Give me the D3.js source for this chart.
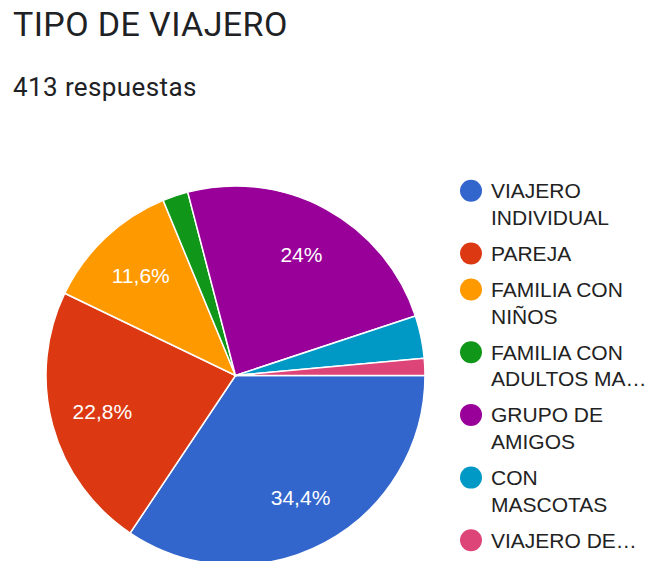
<!DOCTYPE html>
<html>
<head>
<meta charset="utf-8">
<script src="https://cdn.jsdelivr.net/npm/d3@7"></script>
<style>
  body { margin: 0; background: #fff; }
</style>
</head>
<body>
<div id="chart"></div>
<script>
// tipo de viajero - pie chart

const title = "TIPO DE VIAJERO"
const subtitle = "413 respuestas"

const categories = [
    "VIAJERO INDIVIDUAL",
    "PAREJA",
    "FAMILIA CON NIÑOS",
    "FAMILIA CON ADULTOS MA…",
    "GRUPO DE AMIGOS",
    "CON MASCOTAS",
    "VIAJERO DE…"
]
const counts = [142, 94, 48, 9, 99, 15, 6]
const colors = ["#3366cc", "#dc3912", "#ff9900", "#109618", "#990099", "#0099c6", "#dd4477"]

function renderPie(frame_id) {
    let width = 652
    let height = 561
    let cx = 235.5
    let cy = 375.5
    let radius = 189.5

    let svg = d3.select("#" + frame_id)
        .append("svg")
        .attr("width", width)
        .attr("height", height)

    svg.append("text")
        .attr("x", 13)
        .attr("y", 36)
        .text(title)
        .style("font-family", "Roboto")
        .style("font-size", "34px")
        .style("letter-spacing", "0.4px")
        .style("fill", "#202124")

    svg.append("text")
        .attr("x", 13)
        .attr("y", 96)
        .text(subtitle)
        .style("font-family", "Roboto")
        .style("font-size", "26px")
        .style("letter-spacing", "0.4px")
        .style("fill", "#202124")

    let data = categories.map((c, i) => ({ key: c, value: counts[i] }))
    let total = d3.sum(counts)

    let color = d3.scaleOrdinal().domain(categories).range(colors)

    // starts at 3 o'clock, clockwise
    let pie = d3.pie()
        .value(d => d.value)
        .sort(null)
        .startAngle(Math.PI / 2)
        .endAngle(Math.PI / 2 + 2 * Math.PI)
    let data_ready = pie(data)

    let arc_generator = d3.arc().innerRadius(0).outerRadius(radius)
    let label_arc = d3.arc().innerRadius(138).outerRadius(138)

    let g = svg.append("g")
        .attr("transform", "translate(" + cx + "," + cy + ")")

    g.selectAll("path.slice")
        .data(data_ready)
        .enter()
        .append("path")
        .attr("class", "slice")
        .attr("d", arc_generator)
        .attr("fill", d => color(d.data.key))
        .attr("stroke", "#fff")
        .style("stroke-width", "1.5px")

    let fmt = v => {
        let s = (Math.round(v * 1000) / 10).toFixed(1)
        if (s.endsWith(".0")) s = s.slice(0, -2)
        return s.replace(".", ",") + "%"
    }

    g.selectAll("text.pct")
        .data(data_ready.filter(d => d.data.value / total > 0.05))
        .enter()
        .append("text")
        .attr("class", "pct")
        .attr("transform", d => "translate(" + label_arc.centroid(d) + ")")
        .attr("dy", "0.36em")
        .text(d => fmt(d.data.value / total))
        .style("text-anchor", "middle")
        .style("font-family", "Liberation Sans, Arial, sans-serif")
        .style("font-size", "21px")
        .style("fill", "#fff")

    // legend
    let legend = svg.append("g")
    let lineH = 26.7
    let gap = 36
    let maxW = 165
    let y = 198.3

    categories.forEach((c, i) => {
        let item = legend.append("g")
        item.append("circle")
            .attr("cx", 471)
            .attr("cy", y - 7.5)
            .attr("r", 11)
            .attr("fill", color(c))

        let t = item.append("text")
            .style("font-family", "Liberation Sans, Arial, sans-serif")
            .style("font-size", "21px")
            .style("fill", "#222")

        // wrap words into lines
        let words = c.split(" ")
        let lines = []
        let line = []
        let tspan = t.append("tspan").attr("x", 491).attr("y", y)
        words.forEach(w => {
            line.push(w)
            tspan.text(line.join(" "))
            if (tspan.node().getComputedTextLength() > maxW && line.length > 1) {
                line.pop()
                lines.push(line.join(" "))
                line = [w]
            }
        })
        lines.push(line.join(" "))
        tspan.remove()

        lines.forEach((l, k) => {
            t.append("tspan")
                .attr("x", 491)
                .attr("y", y + k * lineH)
                .text(l)
        })
        y += (lines.length - 1) * lineH + gap
    })
}

renderPie("chart")
</script>
</body>
</html>
